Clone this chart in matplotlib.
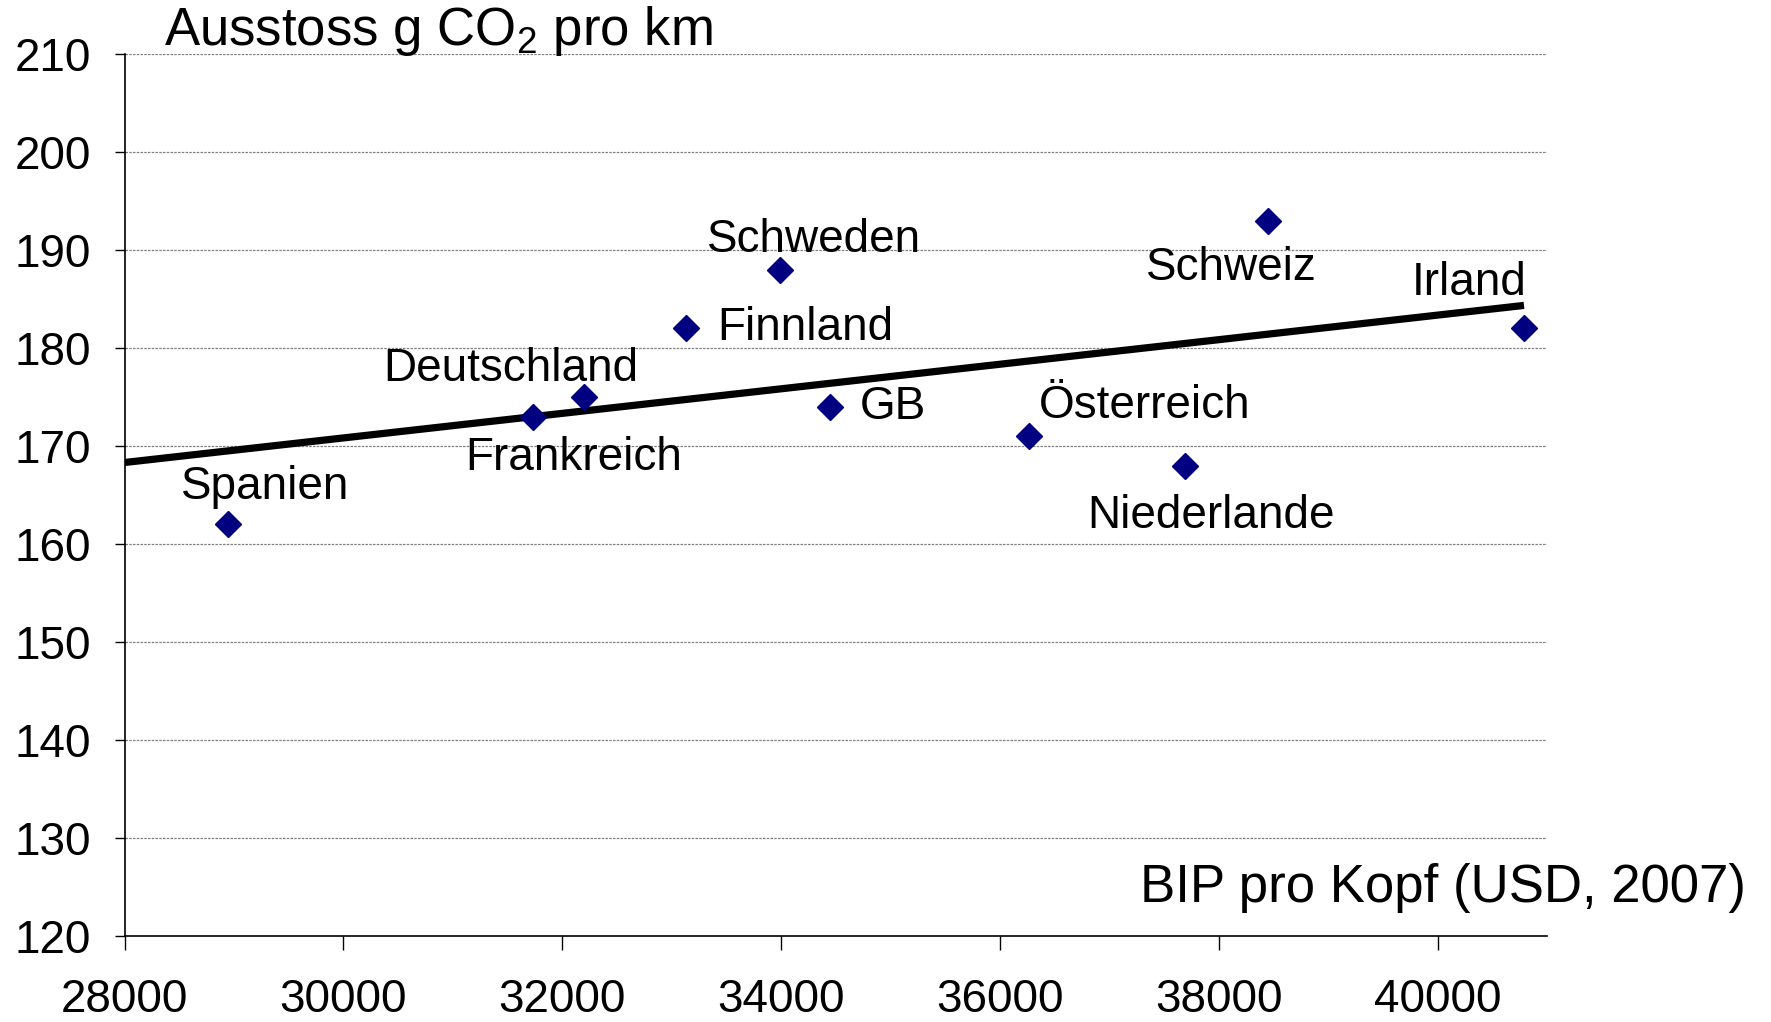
import numpy as np
import matplotlib
matplotlib.use("Agg")
import matplotlib.pyplot as plt

plt.rcParams["font.family"] = ["Liberation Sans", "DejaVu Sans"]
plt.rcParams["mathtext.fontset"] = "custom"
plt.rcParams["mathtext.rm"] = "Liberation Sans"

# BIP pro Kopf (USD, 2007) vs. Ausstoss g CO2 pro km
laender = ["Spanien", "Frankreich", "Deutschland", "Finnland", "Schweden",
           "GB", "Österreich", "Niederlande", "Schweiz", "Irland"]
bip = [28950, 31730, 32200, 33130, 33990, 34450, 36270, 37690, 38450, 40790]
co2 = [162, 173, 175, 182, 188, 174, 171, 168, 193, 182]

# label offsets (pixels) and alignment
offs = {
    "Spanien":     (37, 37, "center"),
    "Frankreich":  (41, -41, "center"),
    "Deutschland": (-73, 28, "center"),
    "Finnland":    (31, 0, "left"),
    "Schweden":    (34, 30, "center"),
    "GB":          (29, 0, "left"),
    "Österreich":  (115, 30, "center"),
    "Niederlande": (26, -50, "center"),
    "Schweiz":     (-37, -47, "center"),
    "Irland":      (-55, 45, "center"),
}

fig = plt.figure(figsize=(17.71, 10.22), dpi=100)
ax = fig.add_axes([0.0703, 0.0841, 0.8032, 0.8630])

x = np.array(bip, float); y = np.array(co2, float)
m, b = np.polyfit(x, y, 1)
xl = np.array([28000, x.max()])
ax.plot(xl, m * xl + b, color="black", lw=5.2, solid_capstyle="butt", zorder=3)

ax.plot(x, y, ls="none", marker="D", ms=13.5, color="#000080", zorder=4)

for n, xv, yv in zip(laender, bip, co2):
    dx, dy, ha = offs[n]
    ax.annotate(n, (xv, yv), xytext=(dx, dy), textcoords="offset pixels",
                ha=ha, va="center", fontsize=33)

ax.set_xlim(28000, 41000)
ax.set_ylim(120, 210)
ax.set_xticks(range(28000, 40001, 2000))
ax.set_yticks(range(120, 211, 10))
ax.yaxis.grid(True, color="#808080", ls=(0, (2, 1)), lw=0.9)
ax.set_axisbelow(True)
for s in ["top", "right"]:
    ax.spines[s].set_visible(False)
for s in ["left", "bottom"]:
    ax.spines[s].set_linewidth(1.2)
ax.tick_params(axis="y", length=7, width=1.0, pad=17, labelsize=33)
ax.tick_params(axis="x", length=10, width=1.0, pad=20, labelsize=33)

fig.text(0.0926, 0.970, "Ausstoss g CO$_2$ pro km", fontsize=38, va="center", ha="left")
fig.text(0.986, 0.131, "BIP pro Kopf (USD, 2007)", fontsize=38, va="center", ha="right")

fig.savefig("out.png", dpi=100)
